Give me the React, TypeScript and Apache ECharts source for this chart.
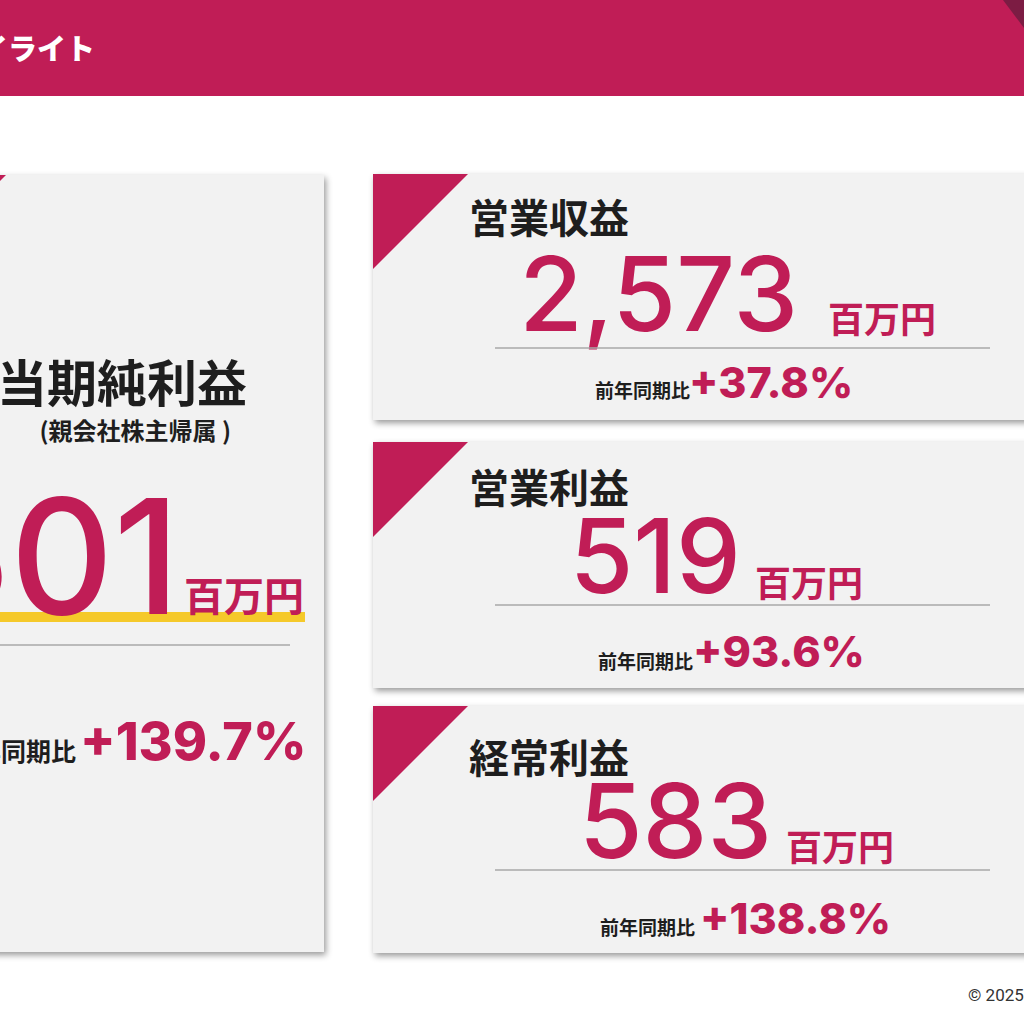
import React, { useEffect, useRef } from 'react';
import * as echarts from 'echarts';

// 決算ハイライト: KPI values
const headerTitle = 'ハイライト';
const kpiTitles = ['営業収益', '営業利益', '経常利益'];
const kpiValues = ['2,573', '519', '583'];
const kpiYoy = ['+37.8%', '+93.6%', '+138.8%'];
const netTitle = '当期純利益';
const netSub = '(親会社株主帰属 )';
const netValue = '501';
const netYoy = '+139.7%';
const unitLabel = '百万円';
const yoyLabel = '前年同期比';
const footer = '© 2025';

// layout of the three right-hand cards (top y and row offsets)
const cardTops = [174, 442, 706];
const cardBottoms = [420, 688, 953];
const titleY = [216, 486, 756];
const numberY = [293, 555, 820];
const numberRight = [798, 741, 772];
const unitY = [317, 581, 845];
const unitLeft = [828, 755, 786];
const ruleY = [348, 605, 870];
const labelY = [389, 660, 926];
const labelRight = [690, 693, 695];
const pctY = [382, 651, 918];
const pctLeft = [689, 693, 700];

const ACCENT = '#C01D56';
const CARD = '#F2F2F2';
const INK = '#1E1E1E';
const JP = '"Noto Sans CJK JP", "Noto Sans", sans-serif';
const NUM = 'Inter, Roboto, sans-serif';
const PCT = 'Inter, Roboto, sans-serif';

const text = (x: number, y: number, t: string, size: number, fill: string, family: string, weight: any, align = 'left') => ({
  type: 'text',
  x,
  y,
  style: { text: t, fill, fontSize: size, fontFamily: family, fontWeight: weight, align, verticalAlign: 'middle' }
});

const App: React.FC = () => {
  const chartRef = useRef<HTMLDivElement>(null);

  useEffect(() => {
    if (!chartRef.current) return;
    const chart = echarts.init(chartRef.current, undefined, { renderer: 'svg' });

    const shadow = { shadowBlur: 6, shadowColor: 'rgba(0,0,0,0.4)', shadowOffsetX: 2, shadowOffsetY: 3 };
    const elements: any[] = [];

    // header band
    elements.push({ type: 'rect', shape: { x: 0, y: 0, width: 1024, height: 96 }, style: { fill: ACCENT } });
    elements.push({ type: 'polygon', shape: { points: [[1003, 0], [1024, 0], [1024, 28]] }, style: { fill: '#7C1C43' } });
    elements.push(text(95, 47, headerTitle, 29, '#ffffff', JP, 900, 'right'));

    // left card: net income
    elements.push({ type: 'rect', shape: { x: -89, y: 175, width: 413, height: 777 }, style: { fill: CARD, ...shadow } });
    elements.push({ type: 'polygon', shape: { points: [[-89, 175], [6, 175], [-89, 270]] }, style: { fill: ACCENT } });
    elements.push(text(247, 380, netTitle, 50, INK, JP, 'bold', 'right'));
    elements.push(text(231, 429, netSub, 24, INK, JP, 'bold', 'right'));
    elements.push({ type: 'rect', shape: { x: -89, y: 612, width: 394, height: 10 }, style: { fill: '#F5C92A' } });
    elements.push(text(180, 556, netValue, 160, ACCENT, NUM, 500, 'right'));
    elements.push(text(184, 594, unitLabel, 40, ACCENT, JP, 'bold'));
    elements.push({ type: 'line', shape: { x1: -89, y1: 645, x2: 290, y2: 645 }, style: { stroke: '#A8A8A8', lineWidth: 1.5 } });
    elements.push(text(76, 750, yoyLabel, 25, INK, JP, 'bold', 'right'));
    elements.push(text(80, 741, netYoy, 52, ACCENT, PCT, 800));

    // right cards
    kpiTitles.forEach((title, i) => {
      const top = cardTops[i];
      elements.push({ type: 'rect', shape: { x: 373, y: top, width: 700, height: cardBottoms[i] - top }, style: { fill: CARD, ...shadow } });
      elements.push({ type: 'polygon', shape: { points: [[373, top], [468, top], [373, top + 95]] }, style: { fill: ACCENT } });
      elements.push(text(469, titleY[i], title, 40, INK, JP, 'bold'));
      elements.push(text(numberRight[i], numberY[i], kpiValues[i], 103, ACCENT, NUM, 500, 'right'));
      elements.push(text(unitLeft[i], unitY[i], unitLabel, 36, ACCENT, JP, 'bold'));
      elements.push({ type: 'line', shape: { x1: 495, y1: ruleY[i], x2: 990, y2: ruleY[i] }, style: { stroke: '#A8A8A8', lineWidth: 1.5 } });
      elements.push(text(labelRight[i], labelY[i], yoyLabel, 19, INK, JP, 'bold', 'right'));
      elements.push(text(pctLeft[i], pctY[i], kpiYoy[i], 43, ACCENT, PCT, 800));
    });

    elements.push(text(968, 995, footer, 17, '#333333', 'Roboto, sans-serif', 'normal'));

    chart.setOption({
      animation: false,
      backgroundColor: '#ffffff',
      graphic: { elements }
    });

    return () => {
      chart.dispose();
    };
  }, []);

  return (
    <div
      ref={chartRef}
      style={{ position: 'absolute', left: 0, top: 0, width: '1024px', height: '1024px' }}
    ></div>
  );
};

export default App;
